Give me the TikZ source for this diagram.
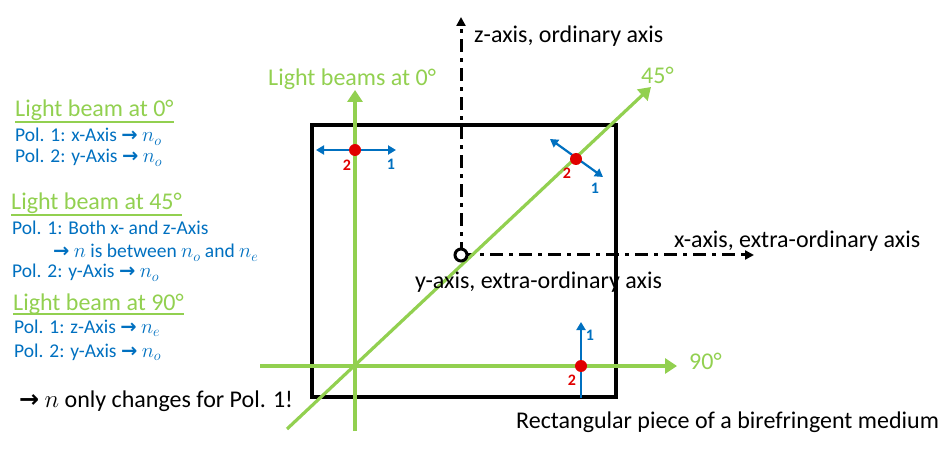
\documentclass[tikz,border=0pt]{standalone}
\usepackage{fontspec}
\setmainfont{Carlito}
\newfontfamily\arrfont{DejaVu Sans}
\usetikzlibrary{arrows.meta}
\definecolor{lgreen}{HTML}{92D050}
\definecolor{pblue}{HTML}{0070C0}
\definecolor{pred}{HTML}{E00000}
\newcommand{\myarr}{{\arrfont\bfseries →}}
\tikzset{
  beam/.style={draw=lgreen, line width=3.2pt, -{Triangle[length=12pt,width=15pt]}},
  pol/.style={draw=pblue, line width=2.2pt, -{Triangle[length=8pt,width=9pt]}},
  polb/.style={draw=pblue, line width=2.2pt, {Triangle[length=8pt,width=9pt]}-{Triangle[length=8pt,width=9pt]}},
  dot/.style={circle, fill=pred, inner sep=0pt, minimum size=12pt},
  axisline/.style={draw=black, line width=3pt, dash pattern=on 13pt off 6pt on 4pt off 6pt, -{Triangle[length=9pt,width=9pt]}},
  head/.style={anchor=base west, inner sep=0pt, text=lgreen, font=\fontsize{24}{28}\selectfont},
  bluetxt/.style={anchor=base west, inner sep=0pt, text=pblue, font=\fontsize{19.5}{23}\selectfont},
  blacktxt/.style={anchor=base west, inner sep=0pt, text=black, font=\fontsize{24}{28}\selectfont},
  num/.style={inner sep=0pt, font=\fontsize{16}{19}\selectfont\bfseries},
  uline/.style={draw=lgreen, line width=2.2pt}
}
\begin{document}
\begin{tikzpicture}[x=1pt,y=-1pt]
\useasboundingbox (0,0) rectangle (951,449);
% rectangle
\draw[line width=3.3pt] (312,125) rectangle (616,397);
% axes
\coordinate (o) at (461,255);
\coordinate (ztip) at (461,17);
\coordinate (xtip) at (754,255);
\draw[axisline] (o) -- (ztip);
\draw[axisline] (o) -- (xtip);
% green beams
\coordinate (vb) at (355,431);
\coordinate (vt) at (355,90);
\coordinate (hl) at (260,366);
\coordinate (hr) at (677,366);
\coordinate (db) at (287,429);
\coordinate (dt) at (651,87);
\draw[beam] (vb) -- (vt);
\draw[beam] (hl) -- (hr);
\draw[beam] (db) -- (dt);
% y-axis circle
\node[circle, draw=black, line width=3pt, fill=white, inner sep=0pt, minimum size=12pt] (yc) at (o) {};
% polarisation arrows
\coordinate (p0l) at (316,150);
\coordinate (p0r) at (396,150);
\draw[polb] (p0l) -- (p0r);
\coordinate (p45a) at (550,139);
\coordinate (p45b) at (603,177);
\draw[polb] (p45a) -- (p45b);
\coordinate (p90b) at (581,398);
\coordinate (p90t) at (581,322);
\draw[pol] (p90b) -- (p90t);
% red dots
\node[dot] (d0) at (355,150) {};
\node[dot] (d45) at (576,159) {};
\node[dot] (d90) at (581,366) {};
% numbers
\node[num, text=pred] (n02) at (347,165) {2};
\node[num, text=pblue] (n01) at (391,164) {1};
\node[num, text=pred] (n452) at (567,173) {2};
\node[num, text=pblue] (n451) at (595,188) {1};
\node[num, text=pblue] (n901) at (590,335) {1};
\node[num, text=pred] (n902) at (572,380) {2};
% labels
\node[blacktxt] (zl) at (474,43) {z-axis, ordinary axis};
\node[blacktxt] (xl) at (674,248) {x-axis, extra-ordinary axis};
\node[blacktxt] (yl) at (415,289) {y-axis, extra-ordinary axis};
\node[blacktxt] (rl) at (516,428) {Rectangular piece of a birefringent medium};
\node[head] (lb0) at (268,86) {Light beams at 0°};
\node[head] (l45) at (641,84) {45°};
\node[head] (l90) at (689,369) {90°};
% left texts
\node[head] (h0) at (15,117) {Light beam at 0°};
\draw[uline] ([yshift=-5pt]h0.base west) -- ([yshift=-5pt]h0.base east);
\node[bluetxt] (t01) at (15,142) {Pol. 1: x-Axis \myarr\ $n_o$};
\node[bluetxt] (t02) at (15,163) {Pol. 2: y-Axis \myarr\ $n_o$};
\node[head] (h45) at (11,210) {Light beam at 45°};
\draw[uline] ([yshift=-5pt]h45.base west) -- ([yshift=-5pt]h45.base east);
\node[bluetxt] (t451) at (12,235) {Pol. 1: Both x- and z-Axis};
\node[bluetxt] (t45m) at (53,258) {\myarr\ $n$ is between $n_o$ and $n_e$};
\node[bluetxt] (t452) at (12,278) {Pol. 2: y-Axis \myarr\ $n_o$};
\node[head] (h90) at (13,310) {Light beam at 90°};
\draw[uline] ([yshift=-4pt]h90.base west) -- ([yshift=-4pt]h90.base east);
\node[bluetxt] (t901) at (14,333) {Pol. 1: z-Axis \myarr\ $n_e$};
\node[bluetxt] (t902) at (14,357) {Pol. 2: y-Axis \myarr\ $n_o$};
\node[blacktxt, font=\fontsize{24}{28}\selectfont] (concl) at (19,407) {\myarr\ $n$ only changes for Pol. 1!};
\end{tikzpicture}
\end{document}
